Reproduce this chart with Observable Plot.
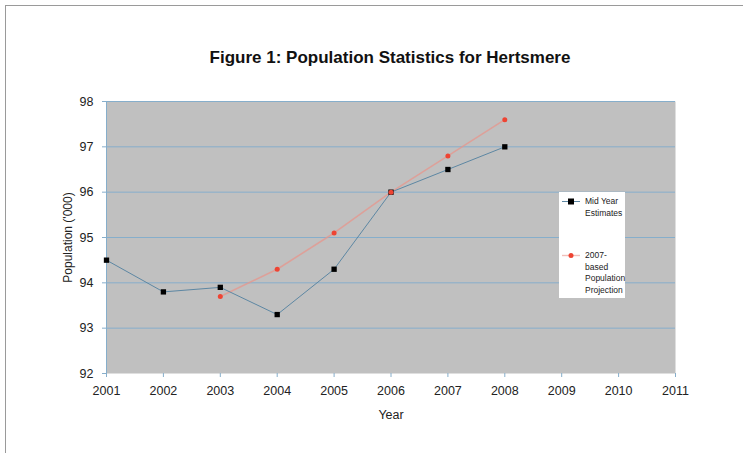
<!DOCTYPE html>
<html>
<head>
<meta charset="utf-8">
<script src="https://cdn.jsdelivr.net/npm/d3@7"></script>
<script src="https://cdn.jsdelivr.net/npm/@observablehq/plot@0.6"></script>
<style>
  html, body { margin: 0; padding: 0; background: #fff; }
  #wrap { position: relative; width: 743px; height: 453px; overflow: hidden; font-family: "Liberation Sans", Arial, sans-serif; }
  #border { position: absolute; left: 5px; top: 5px; right: -2px; bottom: -2px; border-top: 1px solid #9a9a9a; border-left: 1px solid #9a9a9a; pointer-events: none; }
  #legend { position: absolute; left: 559px; top: 192px; width: 66px; height: 106px; background: #fff; font-size: 8.5px; color: #222; }
  #legend .row { position: absolute; left: 26px; line-height: 11.5px; }
  #legend svg { position: absolute; left: 0; top: 0; }
</style>
</head>
<body>
<div id="wrap">
  <div id="chart"></div>
  <div id="legend"></div>
  <div id="border"></div>
</div>
<script>
// Hertsmere population, thousands
const years = [2001, 2002, 2003, 2004, 2005, 2006, 2007, 2008];
const midYearEstimates = [94.5, 93.8, 93.9, 93.3, 94.3, 96.0, 96.5, 97.0];
const projectionYears = [2003, 2004, 2005, 2006, 2007, 2008];
const projection2007 = [93.7, 94.3, 95.1, 96.0, 96.8, 97.6];
const xTicks = [2001, 2002, 2003, 2004, 2005, 2006, 2007, 2008, 2009, 2010, 2011];
const yTicks = [92, 93, 94, 95, 96, 97, 98];
const titleText = "Figure 1: Population Statistics for Hertsmere";

const estimates = years.map((year, i) => ({year, value: midYearEstimates[i]}));
const projection = projectionYears.map((year, i) => ({year, value: projection2007[i]}));

const gridBlue = "#86aecb";
const estLine = "#5d87a3";
const projRed = "#ee4433";
const projLine = "#e7958c";

const chart = Plot.plot({
  width: 743,
  height: 453,
  marginLeft: 106,
  marginRight: 68,
  marginTop: 101,
  marginBottom: 80,
  style: {fontFamily: "'Liberation Sans', Arial, sans-serif", background: "transparent"},
  x: {domain: [2001, 2011], ticks: xTicks, tickFormat: d => String(d)},
  y: {domain: [92, 98], ticks: yTicks, tickFormat: d => String(d)},
  marks: [
    Plot.frame({fill: "#c0c0c0", stroke: null}),
    Plot.gridY(yTicks.filter(d => d > 92), {stroke: gridBlue, strokeOpacity: 1, strokeWidth: 1}),
    Plot.ruleX([2001], {stroke: gridBlue, strokeWidth: 1}),
    Plot.axisX({ticks: xTicks, tickFormat: d => String(d), tickSize: 4, stroke: gridBlue, fontSize: 12.5, fill: "#222", tickPadding: 9, label: null}),
    Plot.axisY({ticks: yTicks, tickFormat: d => String(d), tickSize: 4, stroke: gridBlue, fontSize: 12.5, fill: "#222", tickPadding: 9, label: null}),
    Plot.text(["Year"], {frameAnchor: "bottom", dy: 45, fontSize: 12.5, fill: "#222", text: d => d}),
    Plot.text(["Population ('000)"], {frameAnchor: "left", dx: -38, rotate: -90, textAnchor: "middle", fontSize: 12, fill: "#222", text: d => d}),
    Plot.text([titleText], {frameAnchor: "top", dx: -1, dy: -51, fontSize: 17, fontWeight: "bold", fill: "#111", text: d => d}),
    // 2007-based projection
    Plot.line(projection, {x: "year", y: "value", stroke: projLine, strokeOpacity: 0.75, strokeWidth: 1.6}),
    // Mid-year estimates
    Plot.line(estimates, {x: "year", y: "value", stroke: estLine, strokeWidth: 1}),
    Plot.dot(estimates, {x: "year", y: "value", symbol: "square", r: 3, fill: "#000", stroke: "none"}),
    Plot.dot(projection, {x: "year", y: "value", symbol: "circle", r: 2.5, fill: projRed, stroke: "none"})
  ]
});
document.getElementById("chart").appendChild(chart);

// Legend box
const legend = d3.select("#legend");
const ls = legend.append("svg").attr("width", 66).attr("height", 106);
ls.append("line").attr("x1", 3).attr("x2", 21).attr("y1", 9.5).attr("y2", 9.5).attr("stroke", estLine).attr("stroke-width", 1);
ls.append("rect").attr("x", 9).attr("y", 6.5).attr("width", 6).attr("height", 6).attr("fill", "#000");
ls.append("line").attr("x1", 3).attr("x2", 21).attr("y1", 63.5).attr("y2", 63.5).attr("stroke", projLine).attr("stroke-opacity", 0.6).attr("stroke-width", 1.4);
ls.append("circle").attr("cx", 12).attr("cy", 63.5).attr("r", 2.5).attr("fill", projRed);

const rows = [
  {text: "Mid Year", top: 4},
  {text: "Estimates", top: 15.5},
  {text: "2007-", top: 58},
  {text: "based", top: 69.5},
  {text: "Population", top: 81},
  {text: "Projection", top: 92.5}
];
rows.forEach(r => legend.append("div").attr("class", "row").style("top", r.top + "px").text(r.text));
</script>
</body>
</html>
